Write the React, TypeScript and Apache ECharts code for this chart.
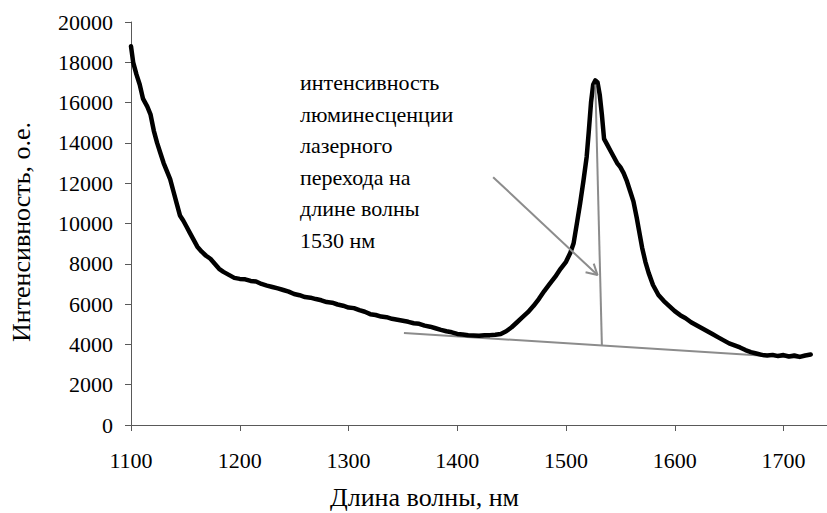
import React, { useEffect, useRef } from "react";
import * as echarts from "echarts";

// Spectrum: wavelength (nm) and intensity (a.u.)
const wavelength = [
  1100, 1102, 1105, 1108, 1111, 1115, 1118, 1121, 1124, 1127, 1130, 1133, 1136, 1139, 1142, 1145, 1148, 1151, 1154, 1157,
  1161, 1165, 1169, 1173, 1177, 1181, 1185, 1190, 1195, 1200, 1205, 1210, 1215, 1220, 1225, 1230, 1235, 1240, 1245, 1250,
  1255, 1260, 1265, 1270, 1275, 1280, 1285, 1290, 1295, 1300, 1305, 1310, 1315, 1320, 1325, 1330, 1335, 1340, 1345, 1350,
  1355, 1360, 1365, 1370, 1375, 1380, 1385, 1390, 1395, 1400, 1405, 1410, 1415, 1420, 1425, 1430, 1435, 1440, 1445, 1450,
  1455, 1460, 1465, 1470, 1475, 1480, 1485, 1490, 1495, 1500, 1504, 1507, 1510, 1513, 1516, 1519, 1521, 1523, 1525, 1527,
  1529, 1531, 1533, 1535, 1538, 1541, 1544, 1547, 1550, 1553, 1556, 1559, 1562, 1565, 1567, 1570, 1573, 1576, 1580, 1585,
  1590, 1595, 1600, 1605, 1610, 1615, 1620, 1625, 1630, 1635, 1640, 1645, 1650, 1655, 1660, 1665, 1670, 1675, 1680, 1685,
  1690, 1695, 1700, 1705, 1710, 1715, 1720, 1725,
];
const intensity = [
  18800, 18000, 17400, 16900, 16200, 15800, 15400, 14600, 14000, 13500, 13000, 12600, 12200, 11600, 11000, 10400, 10150, 9850, 9550, 9250,
  8850, 8600, 8400, 8250, 8000, 7750, 7600, 7450, 7300, 7250, 7230, 7150, 7120, 7000, 6920, 6850, 6780, 6700, 6620, 6500,
  6440, 6350, 6320, 6250, 6190, 6100, 6070, 5980, 5920, 5830, 5800, 5700, 5620, 5500, 5460, 5380, 5350, 5270, 5220, 5170,
  5120, 5050, 5020, 4930, 4880, 4800, 4720, 4650, 4600, 4520, 4490, 4450, 4440, 4430, 4450, 4460, 4480, 4520, 4650, 4850,
  5100, 5350, 5600, 5900, 6250, 6650, 7000, 7350, 7750, 8100, 8550, 9020, 10000, 11000, 12100, 13300, 14600, 16000, 16900, 17100,
  17000, 16400, 15400, 14200, 13900, 13600, 13300, 13000, 12800, 12500, 12100, 11600, 11100, 10300, 9700, 8800, 8100, 7550, 6950, 6450,
  6150, 5900, 5650, 5450, 5300, 5100, 4950, 4800, 4650, 4500, 4350, 4200, 4050, 3950, 3850, 3720, 3620, 3550, 3480, 3450,
  3480, 3420, 3470, 3400, 3450, 3380, 3450, 3500,
];

// Annotation lines (data coordinates)
const baselineX = [1351, 1716];
const baselineY = [4570, 3320];
const heightLineX = [1533, 1527];
const heightLineY = [3950, 16900];
const arrowX = [1433, 1529];
const arrowY = [12300, 7440];
const arrowHeadX = [1518, 1529, 1525.5];
const arrowHeadY = [7580, 7440, 8010];

const xTicks = { min: 1100, max: 1740, interval: 100 };
const yTicks = { min: 0, max: 20000, interval: 2000 };

const noteLines = [
  "интенсивность",
  "люминесценции",
  "лазерного",
  "перехода на",
  "длине волны",
  "1530 нм",
];
const xTitle = "Длина волны, нм";
const yTitle = "Интенсивность, о.е.";

const FONT = "Liberation Serif";

const zip = (xs: number[], ys: number[]) => xs.map((x, i) => [x, ys[i]]);

function buildOption() {
  const gray = "#8c8c8c";
  const axisColor = "#595959";
  return {
    animation: false,
    backgroundColor: "#ffffff",
    textStyle: { fontFamily: FONT },
    grid: { left: 131, top: 22, right: 0, bottom: 88, containLabel: false },
    xAxis: {
      type: "value",
      min: xTicks.min,
      max: xTicks.max,
      interval: xTicks.interval,
      splitLine: { show: false },
      axisLine: { lineStyle: { color: axisColor, width: 1 } },
      axisTick: { show: true, length: 6, lineStyle: { color: axisColor } },
      axisLabel: {
        color: "#000",
        fontFamily: FONT,
        fontSize: 22,
        margin: 24,
        showMaxLabel: false,
        formatter: (v: number) => String(v),
      },
    },
    yAxis: {
      type: "value",
      min: yTicks.min,
      max: yTicks.max,
      interval: yTicks.interval,
      splitLine: { show: false },
      axisLine: { show: true, lineStyle: { color: axisColor, width: 1 } },
      axisTick: { show: true, length: 6, lineStyle: { color: axisColor } },
      axisLabel: {
        color: "#000",
        fontFamily: FONT,
        fontSize: 22,
        margin: 18,
        formatter: (v: number) => String(v),
      },
    },
    series: [
      { type: "line", data: zip(baselineX, baselineY), symbol: "none", lineStyle: { color: gray, width: 2 }, z: 1 },
      { type: "line", data: zip(heightLineX, heightLineY), symbol: "none", lineStyle: { color: gray, width: 2 }, z: 3 },
      {
        type: "line",
        data: zip(wavelength, intensity),
        symbol: "none",
        lineStyle: { color: "#000", width: 4.5, join: "round", cap: "round" },
        z: 2,
      },
      { type: "line", data: zip(arrowX, arrowY), symbol: "none", lineStyle: { color: gray, width: 2 }, z: 3 },
      { type: "line", data: zip(arrowHeadX, arrowHeadY), symbol: "none", lineStyle: { color: gray, width: 2 }, z: 3 },
    ],
    graphic: [
      ...noteLines.map((t, i) => ({
        type: "text",
        left: 300,
        top: 83.5 + i * 31.6 - 12,
        style: { text: t, font: '22px "Liberation Serif"', fill: "#000" },
      })),
      {
        type: "text",
        left: 330,
        top: 484,
        style: { text: xTitle, font: '26px "Liberation Serif"', fill: "#000" },
      },
      {
        type: "text",
        x: 21,
        y: 232,
        rotation: Math.PI / 2,
        style: {
          text: yTitle,
          font: '26px "Liberation Serif"',
          fill: "#000",
          align: "center",
          verticalAlign: "middle",
        },
      },
    ],
  };
}

export default function App() {
  const ref = useRef<HTMLDivElement>(null);
  useEffect(() => {
    if (!ref.current) return;
    const chart = echarts.init(ref.current, null, { renderer: "svg" });
    chart.setOption(buildOption());
    let alive = true;
    const fonts = (document as any).fonts;
    if (fonts && fonts.load) {
      Promise.all([fonts.load('22px "Liberation Serif"'), fonts.load('26px "Liberation Serif"')])
        .then(() => {
          if (!alive) return;
          chart.clear();
          chart.setOption(buildOption());
        })
        .catch(() => {});
    }
    return () => {
      alive = false;
      chart.dispose();
    };
  }, []);
  return (
    <div>
      <span
        aria-hidden="true"
        style={{ fontFamily: FONT, position: "absolute", left: 0, top: 0, opacity: 0, fontSize: 1 }}
      >
        {"\u00a0"}
      </span>
      <div
        ref={ref}
        style={{ position: "fixed", left: 0, top: 0, width: 827, height: 513, background: "#fff" }}
      />
    </div>
  );
}
